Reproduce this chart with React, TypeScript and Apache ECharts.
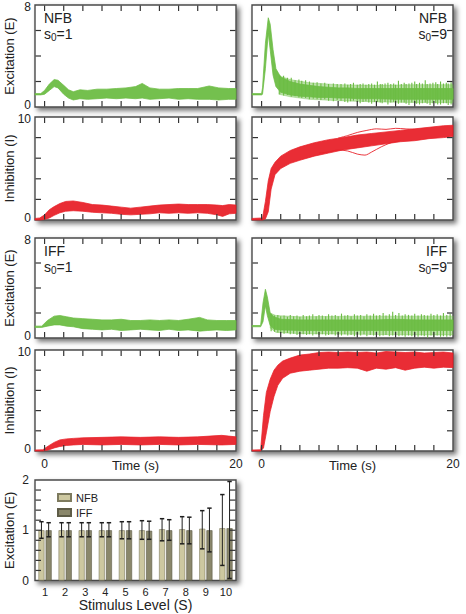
import React, { useEffect, useRef } from "react";
import * as echarts from "echarts";

const GREEN = "#6dbd45";
const RED = "#e8222a";
const FONT = "Liberation Sans, Arial, Helvetica, sans-serif";

// ---- trace envelopes: [time (s), low, high] ----
const nfbE_s1: number[][] = [
  [-1, 0.95, 1.05], [-0.4, 0.95, 1.05], [0, 1.0, 1.3], [0.5, 1.3, 1.8], [1.0, 1.6, 2.15],
  [1.4, 1.5, 2.1], [2.0, 1.0, 1.7], [2.5, 0.7, 1.35], [3.0, 0.55, 1.2], [3.7, 0.65, 1.35],
  [4.5, 0.6, 1.3], [5.5, 0.65, 1.4], [6.5, 0.7, 1.4], [7.5, 0.65, 1.45], [8.5, 0.7, 1.5],
  [9.5, 0.65, 1.6], [10.2, 0.7, 1.85], [11, 0.6, 1.5], [12, 0.65, 1.4], [13, 0.7, 1.4],
  [14, 0.6, 1.45], [15, 0.65, 1.45], [16, 0.6, 1.45], [17.2, 0.6, 1.65], [18.2, 0.55, 1.5],
  [19.2, 0.6, 1.45], [20, 0.6, 1.45],
];
const nfbI_s1: number[][] = [
  [-1, 0, 0.15], [-0.5, 0, 0.2], [0, 0.05, 0.5], [0.5, 0.2, 1.0], [1, 0.45, 1.3],
  [1.6, 0.7, 1.6], [2.2, 0.85, 1.8], [3, 0.9, 1.85], [4, 0.85, 1.7], [5, 0.75, 1.5],
  [6, 0.7, 1.45], [7, 0.65, 1.35], [8, 0.55, 1.25], [9, 0.5, 1.15], [10, 0.55, 1.25],
  [11, 0.6, 1.35], [12, 0.7, 1.45], [13, 0.65, 1.5], [14, 0.7, 1.55], [15, 0.65, 1.5],
  [16, 0.7, 1.5], [17, 0.65, 1.5], [18, 0.5, 1.45], [18.6, 0.35, 1.4], [19.3, 0.6, 1.5],
  [20, 0.65, 1.45],
];
const nfbE_s9: number[][] = [
  [-1, 0.95, 1.05], [0, 0.95, 1.05], [0.1, 1.0, 1.5], [0.4, 3.0, 5.0], [0.7, 5.8, 7.0],
  [0.9, 4.5, 6.5], [1.2, 2.5, 4.5], [1.5, 1.6, 3.0], [2.0, 1.15, 2.35], [3, 0.95, 2.0],
  [4, 0.85, 1.8], [5, 0.8, 1.7], [6, 0.75, 1.6], [7, 0.75, 1.55], [8, 0.7, 1.5],
  [9, 0.7, 1.5], [10, 0.65, 1.45], [12, 0.65, 1.45], [14, 0.6, 1.45], [16, 0.6, 1.45],
  [18, 0.6, 1.45], [20, 0.6, 1.45],
];
const nfbI_s9: number[][] = [
  [-1, 0, 0.15], [0.1, 0, 0.2], [0.4, 0.1, 1.8], [0.7, 0.8, 3.8], [1.0, 3.0, 5.0],
  [1.4, 4.4, 5.6], [2, 5.0, 6.2], [3, 5.5, 6.75], [4, 5.8, 7.1], [5.5, 6.2, 7.5],
  [7, 6.5, 7.8], [8.5, 6.8, 8.0], [10, 7.0, 8.25], [11.5, 7.2, 8.4], [13, 7.4, 8.55],
  [14.5, 7.6, 8.7], [16, 7.7, 8.85], [17.5, 7.9, 9.0], [19, 8.0, 9.15], [20, 8.1, 9.2],
];
const iffE_s1: number[][] = [
  [-1, 0.85, 0.95], [-0.3, 0.85, 0.95], [0.3, 0.95, 1.4], [1.0, 1.05, 1.75], [1.6, 1.05, 1.8],
  [2.3, 0.95, 1.7], [3, 0.9, 1.6], [4, 0.75, 1.55], [5, 0.7, 1.5], [6, 0.65, 1.45],
  [7, 0.7, 1.45], [8, 0.6, 1.5], [9, 0.65, 1.4], [10, 0.7, 1.4], [11, 0.65, 1.45],
  [12, 0.6, 1.4], [13, 0.7, 1.45], [14, 0.6, 1.4], [15, 0.65, 1.5], [16.2, 0.55, 1.65],
  [17, 0.6, 1.45], [18, 0.65, 1.4], [19, 0.6, 1.4], [20, 0.65, 1.4],
];
const iffI_s1: number[][] = [
  [-1, 0, 0.1], [-0.2, 0, 0.12], [0.4, 0.1, 0.5], [1, 0.3, 0.85], [1.6, 0.45, 1.1],
  [2.3, 0.55, 1.2], [3, 0.6, 1.25], [4, 0.65, 1.3], [6, 0.6, 1.35], [8, 0.65, 1.4],
  [10, 0.6, 1.35], [12, 0.65, 1.4], [14, 0.6, 1.35], [16, 0.65, 1.4], [18.5, 0.6, 1.55],
  [20, 0.65, 1.4],
];
const iffE_s9: number[][] = [
  [-1, 0.9, 1.0], [-0.1, 0.9, 1.0], [0.15, 1.3, 2.8], [0.4, 2.6, 3.9], [0.6, 1.8, 3.3],
  [0.9, 1.0, 2.0], [1.3, 0.7, 1.7], [2, 0.65, 1.5], [4, 0.6, 1.45], [6, 0.6, 1.45],
  [8, 0.6, 1.45], [10, 0.6, 1.45], [12, 0.6, 1.45], [14, 0.6, 1.5], [16, 0.6, 1.45],
  [18, 0.6, 1.45], [20, 0.6, 1.45],
];
const iffI_s9: number[][] = [
  [-1, 0, 0.1], [-0.1, 0, 0.12], [0.2, 0.3, 3.5], [0.5, 1.8, 5.8], [0.9, 3.9, 7.1],
  [1.3, 5.4, 8.0], [1.7, 6.5, 8.5], [2.2, 7.2, 8.9], [3, 7.7, 9.2], [4, 7.9, 9.5],
  [5, 8.0, 9.6], [6, 8.1, 9.75], [7, 8.2, 9.8], [8, 8.2, 9.75], [9, 8.25, 9.8],
  [10, 8.2, 9.75], [11, 7.9, 9.8], [12, 8.2, 9.7], [13, 8.1, 9.85], [14, 8.25, 9.8],
  [15, 8.0, 9.75], [16, 8.2, 9.8], [17, 8.3, 9.7], [18, 8.2, 9.75], [19, 8.3, 9.8],
  [20, 8.25, 9.7],
];

// ---- outer (sparser) envelopes of the oscillating traces: [time, low, high] ----
const nfbE_s9_outer: number[][] = [
  [1.8, 1.0, 2.45], [3, 0.8, 2.15], [5, 0.6, 1.9], [8, 0.5, 1.75], [12, 0.4, 1.7],
  [16, 0.35, 1.75], [20, 0.35, 1.75],
];
const iffE_s9_outer: number[][] = [
  [0.9, 0.8, 2.0], [1.5, 0.45, 1.8], [4, 0.35, 1.7], [10, 0.3, 1.75], [16, 0.25, 1.75],
  [20, 0.25, 1.75],
];

// ---- oscillation spikes: [time (s), low, high] ----
const nfbE_s9_spikes: number[][] = [
  [1.9, 1.0, 2.5], [2.3, 0.9, 2.45], [2.7, 0.95, 2.3], [3.1, 0.8, 2.3], [3.5, 0.85, 2.1],
  [3.9, 0.75, 2.15], [4.2, 0.7, 2.05], [4.6, 0.7, 2.1], [5.0, 0.6, 2.0], [5.4, 0.65, 1.9],
  [5.8, 0.6, 1.95], [6.2, 0.55, 1.85], [6.6, 0.6, 1.9], [7.0, 0.5, 1.8], [7.5, 0.45, 1.85],
  [7.9, 0.55, 1.8], [8.3, 0.5, 1.8], [8.7, 0.4, 1.85], [9.0, 0.35, 1.75], [9.3, 0.45, 1.8],
  [9.6, 0.5, 1.9], [10.0, 0.4, 1.75], [10.3, 0.3, 1.8], [10.6, 0.4, 1.85], [10.9, 0.45, 1.75],
  [11.2, 0.35, 1.8], [11.5, 0.25, 1.85], [11.8, 0.4, 1.75], [12.1, 0.4, 2.0], [12.4, 0.35, 1.8],
  [12.6, 0.3, 1.8], [12.9, 0.4, 1.85], [13.2, 0.2, 1.9], [13.5, 0.35, 1.8], [13.8, 0.4, 1.85],
  [14.0, 0.3, 1.75], [14.3, 0.25, 2.05], [14.6, 0.35, 1.8], [14.9, 0.35, 1.9], [15.1, 0.25, 1.8],
  [15.4, 0.15, 1.85], [15.7, 0.35, 1.9], [16.0, 0.3, 2.0], [16.2, 0.25, 1.8], [16.5, 0.2, 1.9],
  [16.8, 0.3, 1.85], [17.1, 0.35, 2.1], [17.3, 0.25, 1.8], [17.6, 0.15, 1.85], [17.9, 0.3, 1.9],
  [18.2, 0.3, 1.95], [18.4, 0.2, 1.8], [18.7, 0.2, 2.0], [19.0, 0.3, 1.85], [19.3, 0.3, 1.9],
  [19.5, 0.15, 1.85], [19.8, 0.2, 1.95],
];
const iffE_s9_spikes: number[][] = [
  [1.0, 0.55, 1.95], [1.35, 0.5, 1.8], [1.7, 0.45, 1.85], [2.0, 0.4, 1.75], [2.35, 0.35, 1.8],
  [2.7, 0.4, 1.7], [3.0, 0.3, 1.85], [3.35, 0.35, 1.75], [3.7, 0.25, 1.8], [4.0, 0.3, 1.7],
  [4.35, 0.3, 1.85], [4.7, 0.25, 1.75], [5.0, 0.3, 1.8], [5.35, 0.2, 1.9], [5.7, 0.3, 1.75],
  [6.0, 0.25, 1.85], [6.35, 0.3, 1.8], [6.7, 0.2, 1.75], [7.0, 0.25, 1.9], [7.35, 0.3, 1.8],
  [7.7, 0.2, 1.85], [8.0, 0.25, 1.75], [8.35, 0.2, 1.95], [8.7, 0.3, 1.8], [9.0, 0.2, 1.85],
  [9.35, 0.25, 1.75], [9.7, 0.15, 1.9], [10.0, 0.25, 1.8], [10.35, 0.2, 1.85], [10.7, 0.3, 1.75],
  [11.0, 0.15, 1.9], [11.35, 0.25, 1.8], [11.7, 0.2, 1.95], [12.0, 0.25, 1.8], [12.35, 0.15, 1.85],
  [12.7, 0.2, 2.0], [13.0, 0.25, 1.8], [13.35, 0.15, 1.9], [13.7, 0.2, 2.1], [14.0, 0.25, 1.85],
  [14.35, 0.15, 2.0], [14.7, 0.2, 1.8], [15.0, 0.1, 1.9], [15.35, 0.2, 1.85], [15.7, 0.15, 1.8],
  [16.0, 0.2, 1.95], [16.35, 0.1, 1.8], [16.7, 0.2, 1.9], [17.0, 0.15, 1.85], [17.35, 0.05, 1.8],
  [17.7, 0.2, 1.95], [18.0, 0.1, 1.85], [18.35, 0.2, 1.9], [18.7, 0.1, 1.8], [19.0, 0.15, 2.0],
  [19.35, 0.1, 1.85], [19.7, 0.15, 1.95],
];

// ---- stray single traces: [time, value] ----
const nfbI_s9_strayLow: number[][] = [
  [6, 6.5], [7, 6.6], [8, 6.8], [9, 6.7], [10, 6.4], [10.8, 6.3], [11.5, 6.6], [12.5, 7.1],
  [13.5, 7.5], [14.5, 7.7],
];
const nfbI_s9_strayHigh: number[][] = [
  [8, 7.95], [9, 8.2], [10, 8.5], [11, 8.7], [12, 8.85], [13, 8.8], [14, 8.9], [15, 8.85], [16, 8.8],
];

// ---- axes: ticks and labels ----
const timeMin = -1;
const timeMax = 20;
const timeTicks = [0, 2, 4, 6, 8, 10, 12, 14, 16, 18];
const timeLabels = [0, 20];
const excitationTicks = [2, 4, 6];
const inhibitionTicks = [2, 4, 6, 8];
const barTicks = [0.2, 0.4, 0.6, 0.8, 1.0, 1.2, 1.4, 1.6, 1.8];
const barLabels = [0, 1, 2];

// ---- bar chart ----
const stimulusLevels = ["1", "2", "3", "4", "5", "6", "7", "8", "9", "10"];
const nfbMean = [1.0, 1.0, 1.0, 1.0, 1.0, 1.0, 1.02, 1.02, 1.03, 1.04];
const iffMean = [1.0, 1.0, 1.0, 1.0, 1.0, 0.99, 1.0, 1.0, 1.0, 1.04];
const nfbLow = [0.84, 0.87, 0.87, 0.87, 0.83, 0.82, 0.79, 0.73, 0.63, 0.3];
const nfbHigh = [1.17, 1.15, 1.15, 1.15, 1.17, 1.19, 1.23, 1.27, 1.39, 1.71];
const iffLow = [0.87, 0.87, 0.87, 0.87, 0.83, 0.82, 0.8, 0.73, 0.57, 0.04];
const iffHigh = [1.15, 1.15, 1.15, 1.15, 1.17, 1.18, 1.21, 1.26, 1.44, 1.97];

type Panel = {
  left: number; top: number; height: number; yMax: number; yTicks: number[]; color: string;
  band: number[][]; outer?: number[][]; spikes?: number[][]; strays?: number[][][];
  leftCol: boolean; bottomRow: boolean; yName: string;
  tag?: { name: string; s: string; right: boolean };
};

const W = 201;
const panels: Panel[] = [
  { left: 35, top: 5, height: 102, yMax: 8, yTicks: excitationTicks, color: GREEN, band: nfbE_s1, leftCol: true, bottomRow: false, yName: "Excitation (E)", tag: { name: "NFB", s: "1", right: false } },
  { left: 35, top: 117, height: 103, yMax: 10, yTicks: inhibitionTicks, color: RED, band: nfbI_s1, leftCol: true, bottomRow: false, yName: "Inhibition (I)" },
  { left: 252, top: 5, height: 102, yMax: 8, yTicks: excitationTicks, color: GREEN, band: nfbE_s9, outer: nfbE_s9_outer, spikes: nfbE_s9_spikes, leftCol: false, bottomRow: false, yName: "", tag: { name: "NFB", s: "9", right: true } },
  { left: 252, top: 117, height: 103, yMax: 10, yTicks: inhibitionTicks, color: RED, band: nfbI_s9, strays: [nfbI_s9_strayLow, nfbI_s9_strayHigh], leftCol: false, bottomRow: false, yName: "" },
  { left: 35, top: 238, height: 100, yMax: 8, yTicks: excitationTicks, color: GREEN, band: iffE_s1, leftCol: true, bottomRow: false, yName: "Excitation (E)", tag: { name: "IFF", s: "1", right: false } },
  { left: 35, top: 350, height: 101, yMax: 10, yTicks: inhibitionTicks, color: RED, band: iffI_s1, leftCol: true, bottomRow: true, yName: "Inhibition (I)" },
  { left: 252, top: 238, height: 100, yMax: 8, yTicks: excitationTicks, color: GREEN, band: iffE_s9, outer: iffE_s9_outer, spikes: iffE_s9_spikes, leftCol: false, bottomRow: false, yName: "", tag: { name: "IFF", s: "9", right: true } },
  { left: 252, top: 350, height: 101, yMax: 10, yTicks: inhibitionTicks, color: RED, band: iffI_s9, leftCol: false, bottomRow: true, yName: "" },
];

const gridStyle = {
  show: true,
  backgroundColor: "#ffffff",
  borderColor: "#4a4a4a",
  borderWidth: 1.4,
  shadowColor: "rgba(0,0,0,0.55)",
  shadowBlur: 5,
  shadowOffsetX: 3,
  shadowOffsetY: 3,
};
const TICK_LEN = 6;
const TICK_STYLE = { stroke: "#333", lineWidth: 1.2 };
const noLine = { show: false, onZero: false };
const yLabelRich = {
  lo: { fontSize: 12, color: "#222", fontFamily: FONT, padding: [0, 0, 4, 0] },
  hi: { fontSize: 12, color: "#222", fontFamily: FONT, padding: [4, 0, 0, 0] },
};

function bandSeries(band: number[][], ax: number, ay: number, color: string, opacity: number, z: number) {
  return {
    type: "custom", xAxisIndex: ax, yAxisIndex: ay, silent: true, z,
    data: [[band[0][0], band[0][1]]],
    renderItem: (_params: any, api: any) => {
      const up = band.map((d) => api.coord([d[0], d[2]]));
      const lo = band.slice().reverse().map((d) => api.coord([d[0], d[1]]));
      return {
        type: "polygon",
        shape: { points: up.concat(lo) },
        style: { fill: color, stroke: color, lineWidth: 0.8, opacity },
      };
    },
  };
}

type AxisPair = { xAxisIndex: number; yAxisIndex: number };

function buildOption() {
  const grid: any[] = [];
  const xAxis: any[] = [];
  const yAxis: any[] = [];
  const series: any[] = [];
  const graphic: any[] = [];
  const tickJobs: { finder: AxisPair; xTicks: number[]; yTicks: number[]; x0: number; x1: number; y0: number; y1: number }[] = [];

  panels.forEach((p, i) => {
    grid.push({ ...gridStyle, left: p.left, top: p.top, width: W, height: p.height });
    const ax = xAxis.length;
    xAxis.push({
      type: "value", gridIndex: i, min: timeMin, max: timeMax,
      axisLine: noLine, splitLine: { show: false }, axisTick: { show: false },
      axisLabel: { show: p.bottomRow, customValues: timeLabels, fontSize: 12, color: "#222", margin: 7, fontFamily: FONT },
      name: p.bottomRow ? "Time (s)" : "", nameLocation: "middle", nameGap: 8, nameMoveOverlap: false,
      nameTextStyle: { fontSize: 13, color: "#222", fontFamily: FONT, verticalAlign: "top" },
    });
    const ay = yAxis.length;
    yAxis.push({
      type: "value", gridIndex: i, min: 0, max: p.yMax,
      axisLine: noLine, splitLine: { show: false }, axisTick: { show: false },
      axisLabel: {
        show: p.leftCol, customValues: [0, p.yMax], margin: 4, fontFamily: FONT,
        formatter: (v: number) => (v === 0 ? "{lo|0}" : `{hi|${v}}`), rich: yLabelRich,
      },
      name: p.yName, nameLocation: "middle", nameGap: 19, nameRotate: 90, nameMoveOverlap: false,
      nameTextStyle: { fontSize: 13, color: "#222", fontFamily: FONT },
    });
    tickJobs.push({ finder: { xAxisIndex: ax, yAxisIndex: ay }, xTicks: timeTicks, yTicks: p.yTicks, x0: timeMin, x1: timeMax, y0: 0, y1: p.yMax });

    if (p.outer) series.push(bandSeries(p.outer, ax, ay, p.color, 0.45, 2));
    series.push(bandSeries(p.band, ax, ay, p.color, 0.95, 3));
    if (p.spikes) {
      series.push({
        type: "custom", xAxisIndex: ax, yAxisIndex: ay, silent: true, z: 4,
        data: p.spikes, encode: { x: 0, y: [1, 2] },
        renderItem: (_params: any, api: any) => {
          const a = api.coord([api.value(0), api.value(1)]);
          const b = api.coord([api.value(0), api.value(2)]);
          return {
            type: "line",
            shape: { x1: a[0], y1: a[1], x2: b[0], y2: b[1] },
            style: { stroke: p.color, lineWidth: 1.1 },
          };
        },
      });
    }
    (p.strays || []).forEach((s) => {
      series.push({
        type: "line", xAxisIndex: ax, yAxisIndex: ay, silent: true, z: 4,
        data: s, showSymbol: false, smooth: 0.3, lineStyle: { color: p.color, width: 0.9 },
      });
    });

    if (p.tag) {
      const tx = p.tag.right ? p.left + W - 6 : p.left + 9;
      const align = p.tag.right ? "right" : "left";
      graphic.push({
        type: "text", x: tx, y: p.top + 6,
        style: { text: p.tag.name, fontSize: 14, fill: "#222", fontFamily: FONT, align, verticalAlign: "top" },
      });
      graphic.push({
        type: "text", x: tx, y: p.top + 21,
        style: {
          text: `{a|s}{b|0}{a|=${p.tag.s}}`, align, verticalAlign: "top", fontFamily: FONT,
          rich: {
            a: { fontSize: 14, fill: "#222", fontFamily: FONT, lineHeight: 16 },
            b: { fontSize: 10, fill: "#222", fontFamily: FONT, lineHeight: 16, padding: [7, 0, 0, 0] },
          },
        },
      });
    }
  });

  // ---- bar chart ----
  const bi = panels.length;
  grid.push({ ...gridStyle, left: 35, top: 480, width: W, height: 100.5 });
  const bx = xAxis.length;
  xAxis.push({
    type: "category", gridIndex: bi, data: stimulusLevels,
    axisLine: noLine, axisTick: { show: false },
    axisLabel: { fontSize: 11, color: "#222", margin: 6, fontFamily: FONT },
    name: "Stimulus Level (S)", nameLocation: "middle", nameGap: 17, nameMoveOverlap: false,
    nameTextStyle: { fontSize: 14, color: "#222", fontFamily: FONT, verticalAlign: "top" },
  });
  // hidden 0..1 helper axis spanning the frame, used to place the side ticks
  const bxFrame = xAxis.length;
  xAxis.push({ type: "value", gridIndex: bi, min: 0, max: 1, show: false, position: "top" });
  const by = yAxis.length;
  yAxis.push({
    type: "value", gridIndex: bi, min: 0, max: 2,
    axisLine: noLine, splitLine: { show: false }, axisTick: { show: false },
    axisLabel: { customValues: barLabels, fontSize: 12, color: "#222", margin: 6, fontFamily: FONT },
    name: "Excitation (E)", nameLocation: "middle", nameGap: 19, nameRotate: 90, nameMoveOverlap: false,
    nameTextStyle: { fontSize: 13, color: "#222", fontFamily: FONT },
  });
  tickJobs.push({ finder: { xAxisIndex: bxFrame, yAxisIndex: by }, xTicks: [], yTicks: barTicks, x0: 0, x1: 1, y0: 0, y1: 2 });

  const barW = 6;
  const half = barW / 2 + 0.6;
  series.push({
    name: "NFB", type: "bar", xAxisIndex: bx, yAxisIndex: by,
    data: nfbMean, barWidth: barW, barGap: "20%",
    itemStyle: { color: "#cdc8a0", borderColor: "#7d7a5e", borderWidth: 0.6 },
  });
  series.push({
    name: "IFF", type: "bar", xAxisIndex: bx, yAxisIndex: by,
    data: iffMean, barWidth: barW,
    itemStyle: { color: "#8a876b", borderColor: "#5e5c47", borderWidth: 0.6 },
  });
  const errSeries = (low: number[], high: number[], offset: number) => ({
    type: "custom", xAxisIndex: bx, yAxisIndex: by, silent: true, z: 5,
    data: stimulusLevels.map((_c, k) => [k, low[k], high[k]]),
    encode: { x: 0, y: [1, 2] },
    renderItem: (_params: any, api: any) => {
      const a = api.coord([api.value(0), api.value(1)]);
      const b = api.coord([api.value(0), api.value(2)]);
      const x = a[0] + offset;
      const stroke = "#1e1e1e";
      return {
        type: "group",
        children: [
          { type: "line", shape: { x1: x, y1: a[1], x2: x, y2: b[1] }, style: { stroke, lineWidth: 1 } },
          { type: "line", shape: { x1: x - 2.2, y1: a[1], x2: x + 2.2, y2: a[1] }, style: { stroke, lineWidth: 1.5 } },
          { type: "line", shape: { x1: x - 2.2, y1: b[1], x2: x + 2.2, y2: b[1] }, style: { stroke, lineWidth: 1.5 } },
        ],
      };
    },
  });
  series.push(errSeries(nfbLow, nfbHigh, -half));
  series.push(errSeries(iffLow, iffHigh, half));

  const option = {
    animation: false,
    textStyle: { fontFamily: FONT },
    grid, xAxis, yAxis, series, graphic,
    legend: {
      data: ["NFB", "IFF"], orient: "vertical", left: 52, top: 487,
      itemWidth: 13, itemHeight: 7, itemGap: 4, icon: "rect",
      textStyle: { fontSize: 11, color: "#222", fontFamily: FONT },
    },
  };
  return { option, tickJobs, graphic };
}

// inward tick marks on the frame edges, placed through the axes' own scales
function buildTicks(chart: echarts.ECharts, jobs: ReturnType<typeof buildOption>["tickJobs"]) {
  const out: any[] = [];
  const line = (x1: number, y1: number, x2: number, y2: number) => ({
    type: "line", z: 100, silent: true, shape: { x1, y1, x2, y2 }, style: TICK_STYLE,
  });
  const ok = (p: any) => Array.isArray(p) && isFinite(p[0]) && isFinite(p[1]);
  jobs.forEach((j) => {
    j.xTicks.forEach((t) => {
      const b = chart.convertToPixel(j.finder as any, [t, j.y0]) as any;
      const tp = chart.convertToPixel(j.finder as any, [t, j.y1]) as any;
      if (ok(b)) out.push(line(b[0], b[1] - 0.5, b[0], b[1] - TICK_LEN));
      if (ok(tp)) out.push(line(tp[0], tp[1] + 0.5, tp[0], tp[1] + TICK_LEN));
    });
    j.yTicks.forEach((v) => {
      const l = chart.convertToPixel(j.finder as any, [j.x0, v]) as any;
      const r = chart.convertToPixel(j.finder as any, [j.x1, v]) as any;
      if (ok(l)) out.push(line(l[0] + 0.5, l[1], l[0] + TICK_LEN, l[1]));
      if (ok(r)) out.push(line(r[0] - 0.5, r[1], r[0] - TICK_LEN, r[1]));
    });
  });
  return out;
}

export default function App() {
  const ref = useRef<HTMLDivElement>(null);
  useEffect(() => {
    if (!ref.current) return;
    const chart = echarts.init(ref.current, undefined, { renderer: "svg" });
    const { option, tickJobs, graphic } = buildOption();
    chart.setOption(option as any);
    const ticks = buildTicks(chart, tickJobs);
    chart.setOption({ graphic: { elements: graphic.concat(ticks) } } as any, { replaceMerge: ["graphic"] } as any);
    return () => chart.dispose();
  }, []);
  return (
    <div
      ref={ref}
      style={{ position: "absolute", left: 0, top: 0, width: 466, height: 614, background: "#fff" }}
    />
  );
}
